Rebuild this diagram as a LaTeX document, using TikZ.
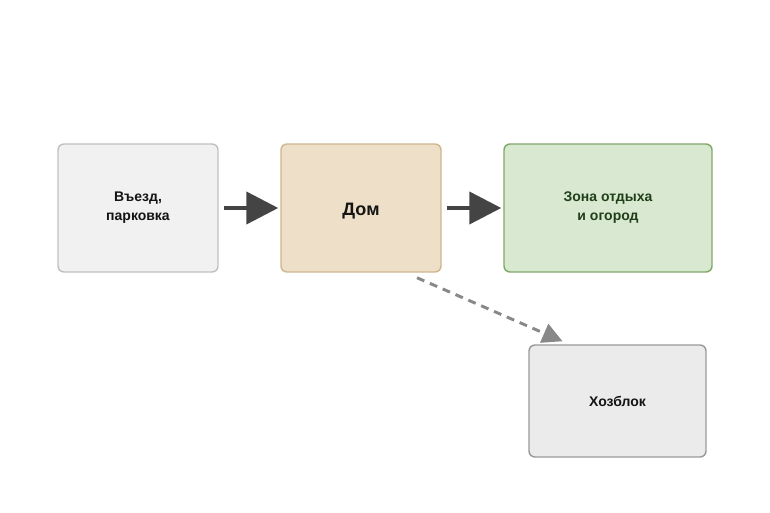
\documentclass[tikz,border=0pt]{standalone}
\usepackage{fontspec}
\setmainfont{Liberation Sans}
\usetikzlibrary{arrows.meta, calc}

\definecolor{entryfill}{HTML}{F1F1F1}
\definecolor{entryline}{HTML}{C0C0C0}
\definecolor{housefill}{HTML}{EEE0C8}
\definecolor{houseline}{HTML}{CFB68E}
\definecolor{gardenfill}{HTML}{D9E8D1}
\definecolor{gardenline}{HTML}{82A86A}
\definecolor{gardentext}{HTML}{1F3F18}
\definecolor{shedfill}{HTML}{EBEBEB}
\definecolor{shedline}{HTML}{9A9A9A}
\definecolor{flowcol}{HTML}{444444}
\definecolor{depcol}{HTML}{888888}
\definecolor{zonetext}{HTML}{141414}

\begin{document}
\begin{tikzpicture}[x=0.75pt, y=-0.75pt,
        zone/.style={draw, line width=1.1pt, rounded corners=4.5pt, align=center, text=zonetext,
            font=\bfseries\fontsize{10.5}{14.25}\selectfont, inner sep=0pt},
        flow/.style={draw=flowcol, line width=3.2pt,
            -{Triangle[length=24pt, width=24pt, fill=flowcol]}, shorten <=3.75pt, shorten >=1.5pt},
        dep/.style={draw=depcol, line width=2.2pt, dash pattern=on 6pt off 4.5pt,
            -{Triangle[length=15pt, width=15pt, fill=depcol]}}]
        \useasboundingbox (0,0) rectangle (770,513);

        \node[zone, fill=entryfill, draw=entryline, minimum width=120pt, minimum height=96pt] (entry) at (138,208) {Въезд,\\парковка};
        \node[zone, fill=housefill, draw=houseline, minimum width=120pt, minimum height=96pt,
            font=\bfseries\fontsize{13.5}{16}\selectfont] (house) at (361,208) {\raisebox{-6pt}[0pt][0pt]{Дом}};
        \node[zone, fill=gardenfill, draw=gardenline, text=gardentext, minimum width=156pt, minimum height=96pt] (garden) at (608,208) {Зона отдыха\\и огород};
        \node[zone, fill=shedfill, draw=shedline, minimum width=132.75pt, minimum height=84pt] (shed) at (617.5,401) {Хозблок};

        \draw[flow] (entry) -- (house);
        \draw[flow] (house) -- (garden);
        \draw[dep] ($(house.south)+(56,5)$) -- ($(shed.north)+(-55,-3)$);
\end{tikzpicture}
\end{document}
